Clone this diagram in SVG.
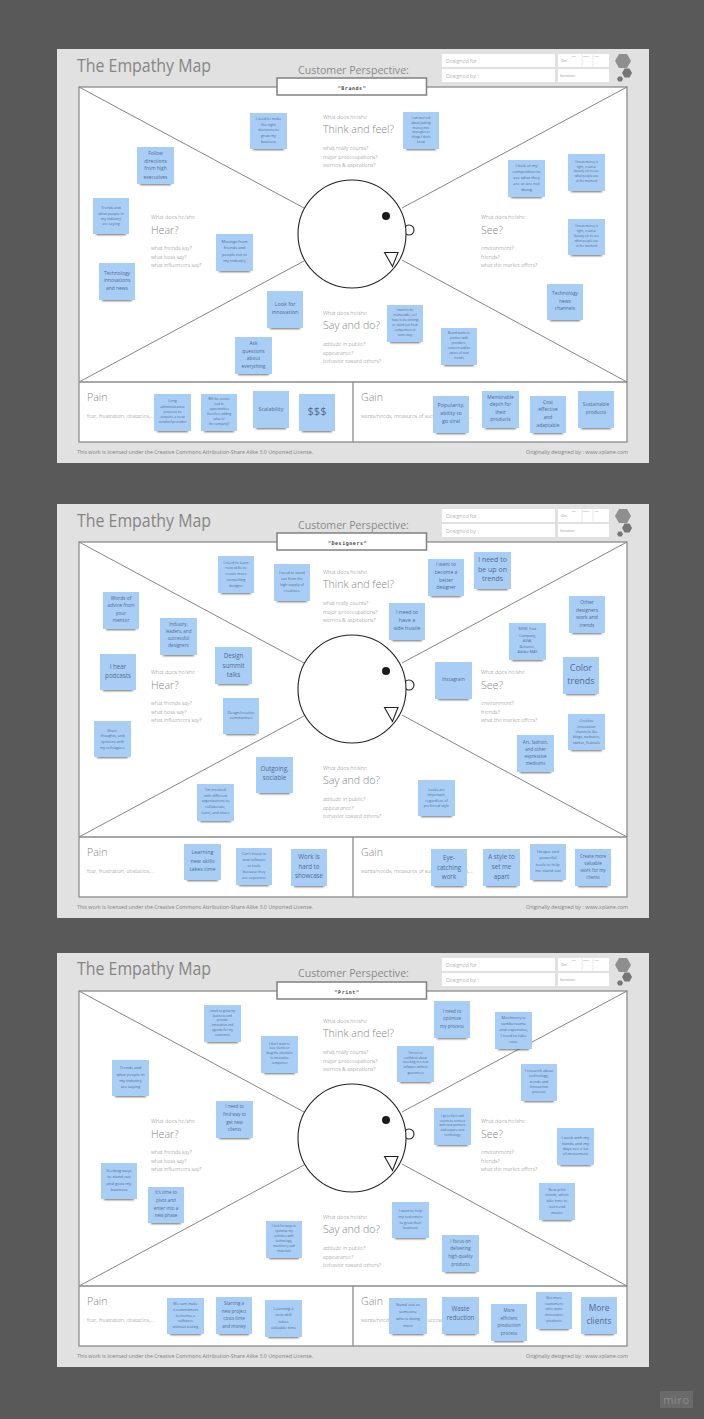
<svg xmlns="http://www.w3.org/2000/svg" width="704" height="1419" viewBox="0 0 704 1419">
<defs>
<filter id="bl" x="-20%" y="-100%" width="140%" height="300%"><feGaussianBlur stdDeviation="0.8"/></filter>
</defs>
<style>
text{font-family:"Open Sans","Liberation Sans",sans-serif}
.panel{fill:#e1e1e1}
.frame{fill:#fff;stroke:#8c8c8c;stroke-width:1.3}
.div{fill:none;stroke:#8c8c8c;stroke-width:1.3}
.diag{stroke:#858585;stroke-width:1}
.field{fill:#fff}
.tick{stroke:#d0d0d0;stroke-width:.5}
.tag{fill:#fff;stroke:#808080;stroke-width:1.5}
.tagt{font-family:"DejaVu Sans Mono",monospace;font-size:5px;font-weight:700;fill:#444;text-anchor:middle;letter-spacing:.55px}
.title{font-size:17.4px;fill:#858585}
.cp{font-size:10.6px;fill:#8a8a8a}
.lab{font-size:5.4px;fill:#858585;font-weight:300}
.tiny{font-size:2.2px;fill:#999}
.q{font-size:5.3px;fill:#858585;font-weight:300}
.big{font-size:10.6px;fill:#858585;font-weight:300}
.foot{font-size:5.3px;fill:#808080}
.head{fill:#fff;stroke:#222;stroke-width:1.1}
.eye{fill:#1c1c1c}
.st{fill:#a9cef6}
.sh{fill:#333;filter:url(#bl);opacity:.7}
.n text,.n{text-anchor:middle;fill:#526a8a}
.f2{font-size:3.1px;fill:#5f7696}.f3{font-size:3.7px;fill:#5a7292}.f4{font-size:4.1px}.f45{font-size:4.5px}.f5{font-size:4.9px}.f55{font-size:5.4px}.f6{font-size:6.2px}.f7{font-size:7px}
.d9{font-size:9px;fill:#2f3e52}.d8{font-size:8.4px;fill:#2f3e52}.d11{font-size:11px;fill:#1f2b3a}
</style>
<rect width="704" height="1419" fill="#595959"/>

<g id="board-1">
<rect class="panel" x="57" y="49" width="592" height="414"/>
<text class="title" x="77" y="72" textLength="134" lengthAdjust="spacingAndGlyphs">The Empathy Map</text>
<text class="cp" x="298" y="74">Customer Perspective:</text>
<rect class="field" x="442" y="54" width="113" height="13"/><rect class="field" x="442" y="69" width="113" height="13"/>
<rect class="field" x="558" y="54" width="51" height="13"/><rect class="field" x="558" y="69" width="51" height="13"/>
<path class="tick" d="M582 54V67M593 54V67"/>
<text class="lab" x="446" y="63">Designed for :</text><text class="lab" x="446" y="77.500">Designed by :</text>
<text class="tiny" style="font-size:3.600px" x="561" y="61.500">On:</text><text class="tiny" style="font-size:3.600px" x="560" y="77">Iteration:</text>
<text class="tiny" x="572" y="56.500">Day</text><text class="tiny" x="582.500" y="56.500">Month</text><text class="tiny" x="594" y="56.500">Year</text>
<path d="M631 61l-4 7h-8l-4-7 4-7h8z" fill="#8f8f8f"/><path d="M632 73l-2.500 4.400h-5L622 73l2.500-4.400h5z" fill="#767676"/><path d="M623 79l-1.400 2.500h-3L617 79l1.600-2.500h3z" fill="#767676"/>
<rect class="frame" x="79" y="87" width="548" height="355"/>
<path class="div" d="M79 382H627M353 382V442"/>
<g class="connectors"><line class="diag" x1="79" y1="87" x2="304" y2="208"/><line class="diag" x1="627" y1="87" x2="402" y2="208"/><line class="diag" x1="79" y1="382" x2="304" y2="261"/><line class="diag" x1="627" y1="382" x2="402" y2="260"/></g>
<circle class="head" cx="409" cy="230" r="5"/><circle class="head" cx="352" cy="234" r="54"/><circle class="eye" cx="386" cy="216" r="4"/><path class="head" d="M384.500 252.500H398L392.500 266.500Z"/>
<rect class="tag" x="277" y="78" width="149.500" height="17"/><text class="tagt" x="352" y="89.500">"Brands"</text>
<text class="lab" x="323" y="119">What does he/she</text><text class="big" x="323" y="133">Think and feel?</text><text class="q" x="323" y="150">what really counts?</text><text class="q" x="323" y="158.500">major preoccupations?</text><text class="q" x="323" y="167">worries &amp; aspirations?</text>
<text class="lab" x="151" y="219">What does he/she</text><text class="big" x="151" y="234">Hear?</text><text class="q" x="151" y="250">what friends say?</text><text class="q" x="151" y="258.500">what boss say?</text><text class="q" x="151" y="267">what influencers say?</text>
<text class="lab" x="481" y="219">What does he/she</text><text class="big" x="481" y="234">See?</text><text class="q" x="481" y="250">environment?</text><text class="q" x="481" y="258.500">friends?</text><text class="q" x="481" y="267">what the market offers?</text>
<text class="lab" x="323" y="315">What does he/she</text><text class="big" x="323" y="329">Say and do?</text><text class="q" x="323" y="346">attitude in public?</text><text class="q" x="323" y="354.500">appearance?</text><text class="q" x="323" y="363">behavior toward others?</text>
<text class="big" x="87" y="401">Pain</text><text class="q" x="87" y="418">fear, frustration, obstacles,...</text>
<text class="big" x="361" y="401">Gain</text><text class="q" x="361" y="418">wants/needs, measures of success, obstacles,...</text>
<text class="foot" x="77" y="454" textLength="236" lengthAdjust="spacingAndGlyphs">This work is licensed under the Creative Commons Attribution-Share Alike 3.0 Unported License.</text>
<text class="foot" x="526" y="454" textLength="102" lengthAdjust="spacingAndGlyphs">Originally designed by : www.xplane.com</text>
</g>

<g id="board-2" transform="translate(0,455)">
<rect class="panel" x="57" y="49" width="592" height="414"/>
<text class="title" x="77" y="72" textLength="134" lengthAdjust="spacingAndGlyphs">The Empathy Map</text>
<text class="cp" x="298" y="74">Customer Perspective:</text>
<rect class="field" x="442" y="54" width="113" height="13"/><rect class="field" x="442" y="69" width="113" height="13"/>
<rect class="field" x="558" y="54" width="51" height="13"/><rect class="field" x="558" y="69" width="51" height="13"/>
<path class="tick" d="M582 54V67M593 54V67"/>
<text class="lab" x="446" y="63">Designed for :</text><text class="lab" x="446" y="77.500">Designed by :</text>
<text class="tiny" style="font-size:3.600px" x="561" y="61.500">On:</text><text class="tiny" style="font-size:3.600px" x="560" y="77">Iteration:</text>
<text class="tiny" x="572" y="56.500">Day</text><text class="tiny" x="582.500" y="56.500">Month</text><text class="tiny" x="594" y="56.500">Year</text>
<path d="M631 61l-4 7h-8l-4-7 4-7h8z" fill="#8f8f8f"/><path d="M632 73l-2.500 4.400h-5L622 73l2.500-4.400h5z" fill="#767676"/><path d="M623 79l-1.400 2.500h-3L617 79l1.600-2.500h3z" fill="#767676"/>
<rect class="frame" x="79" y="87" width="548" height="355"/>
<path class="div" d="M79 382H627M353 382V442"/>
<g class="connectors"><line class="diag" x1="79" y1="87" x2="304" y2="208"/><line class="diag" x1="627" y1="87" x2="402" y2="208"/><line class="diag" x1="79" y1="382" x2="304" y2="261"/><line class="diag" x1="627" y1="382" x2="402" y2="260"/></g>
<circle class="head" cx="409" cy="230" r="5"/><circle class="head" cx="352" cy="234" r="54"/><circle class="eye" cx="386" cy="216" r="4"/><path class="head" d="M384.500 252.500H398L392.500 266.500Z"/>
<rect class="tag" x="277" y="78" width="149.500" height="17"/><text class="tagt" x="347.500" y="89.500">"Designers"</text>
<text class="lab" x="323" y="119">What does he/she</text><text class="big" x="323" y="133">Think and feel?</text><text class="q" x="323" y="150">what really counts?</text><text class="q" x="323" y="158.500">major preoccupations?</text><text class="q" x="323" y="167">worries &amp; aspirations?</text>
<text class="lab" x="151" y="219">What does he/she</text><text class="big" x="151" y="234">Hear?</text><text class="q" x="151" y="250">what friends say?</text><text class="q" x="151" y="258.500">what boss say?</text><text class="q" x="151" y="267">what influencers say?</text>
<text class="lab" x="481" y="219">What does he/she</text><text class="big" x="481" y="234">See?</text><text class="q" x="481" y="250">environment?</text><text class="q" x="481" y="258.500">friends?</text><text class="q" x="481" y="267">what the market offers?</text>
<text class="lab" x="323" y="315">What does he/she</text><text class="big" x="323" y="329">Say and do?</text><text class="q" x="323" y="346">attitude in public?</text><text class="q" x="323" y="354.500">appearance?</text><text class="q" x="323" y="363">behavior toward others?</text>
<text class="big" x="87" y="401">Pain</text><text class="q" x="87" y="418">fear, frustration, obstacles,...</text>
<text class="big" x="361" y="401">Gain</text><text class="q" x="361" y="418">wants/needs, measures of success, obstacles,...</text>
<text class="foot" x="77" y="454" textLength="236" lengthAdjust="spacingAndGlyphs">This work is licensed under the Creative Commons Attribution-Share Alike 3.0 Unported License.</text>
<text class="foot" x="526" y="454" textLength="102" lengthAdjust="spacingAndGlyphs">Originally designed by : www.xplane.com</text>
</g>

<g id="board-3" transform="translate(0,904)">
<rect class="panel" x="57" y="49" width="592" height="414"/>
<text class="title" x="77" y="71" textLength="134" lengthAdjust="spacingAndGlyphs">The Empathy Map</text>
<text class="cp" x="298" y="73">Customer Perspective:</text>
<rect class="field" x="442" y="54" width="113" height="13"/><rect class="field" x="442" y="69" width="113" height="13"/>
<rect class="field" x="558" y="54" width="51" height="13"/><rect class="field" x="558" y="69" width="51" height="13"/>
<path class="tick" d="M582 54V67M593 54V67"/>
<text class="lab" x="446" y="63">Designed for :</text><text class="lab" x="446" y="77.500">Designed by :</text>
<text class="tiny" style="font-size:3.600px" x="561" y="61.500">On:</text><text class="tiny" style="font-size:3.600px" x="560" y="77">Iteration:</text>
<text class="tiny" x="572" y="56.500">Day</text><text class="tiny" x="582.500" y="56.500">Month</text><text class="tiny" x="594" y="56.500">Year</text>
<path d="M631 61l-4 7h-8l-4-7 4-7h8z" fill="#8f8f8f"/><path d="M632 73l-2.500 4.400h-5L622 73l2.500-4.400h5z" fill="#767676"/><path d="M623 79l-1.400 2.500h-3L617 79l1.600-2.500h3z" fill="#767676"/>
<rect class="frame" x="79" y="87" width="548" height="355"/>
<path class="div" d="M79 382H627M353 382V442"/>
<g class="connectors"><line class="diag" x1="79" y1="87" x2="304" y2="208"/><line class="diag" x1="627" y1="87" x2="402" y2="208"/><line class="diag" x1="79" y1="382" x2="304" y2="261"/><line class="diag" x1="627" y1="382" x2="402" y2="260"/></g>
<circle class="head" cx="409" cy="230" r="5"/><circle class="head" cx="352" cy="234" r="54"/><circle class="eye" cx="386" cy="216" r="4"/><path class="head" d="M384.500 252.500H398L392.500 266.500Z"/>
<rect class="tag" x="277" y="78" width="149.500" height="17"/><text class="tagt" x="347" y="89.500">"Print"</text>
<text class="lab" x="323" y="119">What does he/she</text><text class="big" x="323" y="133">Think and feel?</text><text class="q" x="323" y="150">what really counts?</text><text class="q" x="323" y="158.500">major preoccupations?</text><text class="q" x="323" y="167">worries &amp; aspirations?</text>
<text class="lab" x="151" y="219">What does he/she</text><text class="big" x="151" y="234">Hear?</text><text class="q" x="151" y="250">what friends say?</text><text class="q" x="151" y="258.500">what boss say?</text><text class="q" x="151" y="267">what influencers say?</text>
<text class="lab" x="481" y="219">What does he/she</text><text class="big" x="481" y="234">See?</text><text class="q" x="481" y="250">environment?</text><text class="q" x="481" y="258.500">friends?</text><text class="q" x="481" y="267">what the market offers?</text>
<text class="lab" x="323" y="315">What does he/she</text><text class="big" x="323" y="329">Say and do?</text><text class="q" x="323" y="346">attitude in public?</text><text class="q" x="323" y="354.500">appearance?</text><text class="q" x="323" y="363">behavior toward others?</text>
<text class="big" x="87" y="401">Pain</text><text class="q" x="87" y="418">fear, frustration, obstacles,...</text>
<text class="big" x="361" y="401">Gain</text><text class="q" x="361" y="418">wants/needs, measures of success, obstacles,...</text>
<text class="foot" x="77" y="454" textLength="236" lengthAdjust="spacingAndGlyphs">This work is licensed under the Creative Commons Attribution-Share Alike 3.0 Unported License.</text>
<text class="foot" x="526" y="454" textLength="102" lengthAdjust="spacingAndGlyphs">Originally designed by : www.xplane.com</text>
</g>

<g id="notes-1">
<g id="n1-1" class="n"><rect class="sh" x="253" y="147" width="31" height="3"/><rect class="st" x="250" y="113" width="37" height="36"/><text class="f3"><tspan x="268.500" y="119.500">I need to make</tspan><tspan x="268.500" y="125.500">the right</tspan><tspan x="268.500" y="131">decisions to</tspan><tspan x="268.500" y="137">grow my</tspan><tspan x="268.500" y="143">business</tspan></text></g>
<g id="n1-2" class="n"><rect class="sh" x="140" y="182" width="31" height="3"/><rect class="st" x="137" y="147" width="37" height="37"/><text class="f5"><tspan x="155.500" y="155">Follow</tspan><tspan x="155.500" y="163">directions</tspan><tspan x="155.500" y="170">from high</tspan><tspan x="155.500" y="178.500">executives</tspan></text></g>
<g id="n1-3" class="n"><rect class="sh" x="96" y="232" width="30" height="3"/><rect class="st" x="93" y="198" width="36" height="36"/><text class="f3"><tspan x="111" y="208.500">Trends and</tspan><tspan x="111" y="214.500">what people in</tspan><tspan x="111" y="219.500">my industry</tspan><tspan x="111" y="225">are saying</tspan></text></g>
<g id="n1-4" class="n"><rect class="sh" x="219" y="269" width="31" height="3"/><rect class="st" x="216" y="234" width="37" height="37"/><text class="f4"><tspan x="234.500" y="242.500">Musings from</tspan><tspan x="234.500" y="249">friends and</tspan><tspan x="234.500" y="255.500">people not in</tspan><tspan x="234.500" y="261.500">my industry</tspan></text></g>
<g id="n1-5" class="n"><rect class="sh" x="102" y="298" width="30" height="3"/><rect class="st" x="99" y="263" width="36" height="37"/><text class="f5"><tspan x="117" y="275">Technology</tspan><tspan x="117" y="282">innovations</tspan><tspan x="117" y="290">and news</tspan></text></g>
<g id="n1-6" class="n"><rect class="sh" x="270" y="326" width="30" height="3"/><rect class="st" x="267" y="291" width="36" height="37"/><text class="f55"><tspan x="285" y="306">Look for</tspan><tspan x="285" y="314">innovation</tspan></text></g>
<g id="n1-7" class="n"><rect class="sh" x="238" y="372" width="31" height="3"/><rect class="st" x="235" y="337" width="37" height="37"/><text class="f5"><tspan x="253.500" y="345">Ask</tspan><tspan x="253.500" y="353">questions</tspan><tspan x="253.500" y="360">about</tspan><tspan x="253.500" y="368">everything</tspan></text></g>
<g id="n1-8" class="n"><rect class="sh" x="157" y="429" width="31" height="3"/><rect class="st" x="154" y="394" width="37" height="37"/><text class="f3"><tspan x="172.500" y="402">Long</tspan><tspan x="172.500" y="407.500">administrative</tspan><tspan x="172.500" y="412.500">process to</tspan><tspan x="172.500" y="417.500">acquire a new</tspan><tspan x="172.500" y="423">vendor/provider</tspan></text></g>
<g id="n1-9" class="n"><rect class="sh" x="204" y="429" width="30" height="3"/><rect class="st" x="201" y="394" width="36" height="37"/><text class="f2"><tspan x="219" y="400">Will the service</tspan><tspan x="219" y="405">lead to</tspan><tspan x="219" y="410">opportunities</tspan><tspan x="219" y="415">therefore adding</tspan><tspan x="219" y="420">value to</tspan><tspan x="219" y="425">the company?</tspan></text></g>
<g id="n1-10" class="n"><rect class="sh" x="256" y="426" width="30" height="3"/><rect class="st" x="253" y="391" width="36" height="37"/><text class="f55"><tspan x="271" y="411">Scalability</tspan></text></g>
<g id="n1-11" class="n"><rect class="sh" x="302" y="429" width="30" height="3"/><rect class="st" x="299" y="394" width="36" height="37"/><text class="d11"><tspan x="317" y="415">$$$</tspan></text></g>
<g id="n1-12" class="n"><rect class="sh" x="406" y="147" width="30" height="3"/><rect class="st" x="403" y="112" width="36" height="37"/><text class="f2"><tspan x="421" y="119">I am worried</tspan><tspan x="421" y="124">about putting</tspan><tspan x="421" y="128.500">money into</tspan><tspan x="421" y="133">strategies or</tspan><tspan x="421" y="138">things I don't</tspan><tspan x="421" y="143">know</tspan></text></g>
<g id="n1-13" class="n"><rect class="sh" x="511" y="195" width="31" height="3"/><rect class="st" x="508" y="160" width="37" height="37"/><text class="f4"><tspan x="526.500" y="166.500">I look at my</tspan><tspan x="526.500" y="172.500">competition to</tspan><tspan x="526.500" y="178.500">see what they</tspan><tspan x="526.500" y="184.500">are or are not</tspan><tspan x="526.500" y="190.500">doing</tspan></text></g>
<g id="n1-14" class="n"><rect class="sh" x="571" y="189" width="31" height="3"/><rect class="st" x="568" y="154" width="37" height="37"/><text class="f2"><tspan x="586.500" y="163">I know money is</tspan><tspan x="586.500" y="167.500">tight, creative</tspan><tspan x="586.500" y="172">beauty etc to see</tspan><tspan x="586.500" y="177">what people use</tspan><tspan x="586.500" y="182">at the moment</tspan></text></g>
<g id="n1-15" class="n"><rect class="sh" x="571" y="253" width="31" height="3"/><rect class="st" x="568" y="219" width="37" height="36"/><text class="f2"><tspan x="586.500" y="227">I know money is</tspan><tspan x="586.500" y="232">tight, creative</tspan><tspan x="586.500" y="237">beauty etc to see</tspan><tspan x="586.500" y="242">what people use</tspan><tspan x="586.500" y="247">at the moment</tspan></text></g>
<g id="n1-16" class="n"><rect class="sh" x="550" y="318" width="30" height="3"/><rect class="st" x="547" y="284" width="36" height="36"/><text class="f5"><tspan x="565" y="295">Technology</tspan><tspan x="565" y="303">news</tspan><tspan x="565" y="310">channels</tspan></text></g>
<g id="n1-17" class="n"><rect class="sh" x="390" y="340" width="30" height="3"/><rect class="st" x="387" y="305" width="36" height="37"/><text class="f2"><tspan x="405" y="311">I want to be</tspan><tspan x="405" y="316">memorable, so I</tspan><tspan x="405" y="321">have to be striving</tspan><tspan x="405" y="326">or stand out from</tspan><tspan x="405" y="331">competitors in</tspan><tspan x="405" y="336">some way</tspan></text></g>
<g id="n1-18" class="n"><rect class="sh" x="444" y="363" width="30" height="3"/><rect class="st" x="441" y="328" width="36" height="37"/><text class="f2"><tspan x="459" y="334">Brand wants to</tspan><tspan x="459" y="339">partner with</tspan><tspan x="459" y="344">providers,</tspan><tspan x="459" y="349">concern and be</tspan><tspan x="459" y="354">aware of new</tspan><tspan x="459" y="359">trends</tspan></text></g>
<g id="n1-19" class="n"><rect class="sh" x="436" y="431" width="30" height="3"/><rect class="st" x="433" y="396" width="36" height="37"/><text class="f55"><tspan x="451" y="407">Popularity,</tspan><tspan x="451" y="415">ability to</tspan><tspan x="451" y="423">go viral</tspan></text></g>
<g id="n1-20" class="n"><rect class="sh" x="485" y="426" width="31" height="3"/><rect class="st" x="482" y="391" width="37" height="37"/><text class="f5"><tspan x="500.500" y="399">Memorable</tspan><tspan x="500.500" y="406">depth for</tspan><tspan x="500.500" y="414">their</tspan><tspan x="500.500" y="421">products</tspan></text></g>
<g id="n1-21" class="n"><rect class="sh" x="533" y="431" width="30" height="3"/><rect class="st" x="530" y="396" width="36" height="37"/><text class="f5"><tspan x="548" y="404">Cost</tspan><tspan x="548" y="411">effective</tspan><tspan x="548" y="419">and</tspan><tspan x="548" y="427">adaptable</tspan></text></g>
<g id="n1-22" class="n"><rect class="sh" x="581" y="426" width="30" height="3"/><rect class="st" x="578" y="391" width="36" height="37"/><text class="f5"><tspan x="596" y="406">Sustainable</tspan><tspan x="596" y="414">products</tspan></text></g>
</g>

<g id="notes-2">
<g id="n2-1" class="n"><rect class="sh" x="221" y="591" width="30" height="3"/><rect class="st" x="218" y="556" width="36" height="37"/><text class="f3"><tspan x="236" y="563.500">I need to learn</tspan><tspan x="236" y="569">new skills to</tspan><tspan x="236" y="575">create more</tspan><tspan x="236" y="581">compelling</tspan><tspan x="236" y="587">designs.</tspan></text></g>
<g id="n2-2" class="n"><rect class="sh" x="277" y="599" width="30" height="3"/><rect class="st" x="274" y="564" width="36" height="37"/><text class="f3"><tspan x="292" y="573.500">I need to stand</tspan><tspan x="292" y="579.500">out from the</tspan><tspan x="292" y="585.500">high supply of</tspan><tspan x="292" y="591.500">creatives.</tspan></text></g>
<g id="n2-3" class="n"><rect class="sh" x="106" y="627" width="30" height="3"/><rect class="st" x="103" y="592" width="36" height="37"/><text class="f5"><tspan x="121" y="600">Words of</tspan><tspan x="121" y="607">advice from</tspan><tspan x="121" y="615">your</tspan><tspan x="121" y="622">mentor</tspan></text></g>
<g id="n2-4" class="n"><rect class="sh" x="163" y="653" width="31" height="3"/><rect class="st" x="160" y="618" width="37" height="37"/><text class="f45"><tspan x="178.500" y="626">Industry,</tspan><tspan x="178.500" y="633">leaders, and</tspan><tspan x="178.500" y="640">successful</tspan><tspan x="178.500" y="647">designers</tspan></text></g>
<g id="n2-5" class="n"><rect class="sh" x="103" y="688" width="30" height="3"/><rect class="st" x="100" y="654" width="36" height="36"/><text class="f6"><tspan x="118" y="668.500">I hear</tspan><tspan x="118" y="678">podcasts</tspan></text></g>
<g id="n2-6" class="n"><rect class="sh" x="218" y="682" width="31" height="3"/><rect class="st" x="215" y="647" width="37" height="37"/><text class="f6"><tspan x="233.500" y="657.500">Design</tspan><tspan x="233.500" y="667.500">summit</tspan><tspan x="233.500" y="677">talks</tspan></text></g>
<g id="n2-7" class="n"><rect class="sh" x="226" y="732" width="30" height="3"/><rect class="st" x="223" y="698" width="36" height="36"/><text class="f3"><tspan x="241" y="713.500">Design/creative</tspan><tspan x="241" y="718.500">communities</tspan></text></g>
<g id="n2-8" class="n"><rect class="sh" x="97" y="755" width="31" height="3"/><rect class="st" x="94" y="721" width="37" height="36"/><text class="f3"><tspan x="112.500" y="731.500">Share</tspan><tspan x="112.500" y="736.500">thoughts, and</tspan><tspan x="112.500" y="742.500">opinions with</tspan><tspan x="112.500" y="748.500">my colleagues.</tspan></text></g>
<g id="n2-9" class="n"><rect class="sh" x="259" y="791" width="31" height="3"/><rect class="st" x="256" y="757" width="37" height="36"/><text class="f6"><tspan x="274.500" y="771">Outgoing,</tspan><tspan x="274.500" y="779.500">sociable</tspan></text></g>
<g id="n2-10" class="n"><rect class="sh" x="200" y="819" width="31" height="3"/><rect class="st" x="197" y="784" width="37" height="37"/><text class="f3"><tspan x="215.500" y="790.500">I'm involved</tspan><tspan x="215.500" y="796.500">with different</tspan><tspan x="215.500" y="801.500">organizations to</tspan><tspan x="215.500" y="807.500">collaborate,</tspan><tspan x="215.500" y="813.500">learn, and share</tspan></text></g>
<g id="n2-11" class="n"><rect class="sh" x="187" y="878" width="31" height="3"/><rect class="st" x="184" y="844" width="37" height="36"/><text class="f55"><tspan x="202.500" y="854">Learning</tspan><tspan x="202.500" y="863">new skills</tspan><tspan x="202.500" y="871">takes time</tspan></text></g>
<g id="n2-12" class="n"><rect class="sh" x="239" y="883" width="30" height="3"/><rect class="st" x="236" y="848" width="36" height="37"/><text class="f3"><tspan x="254" y="854.500">Can't invest in</tspan><tspan x="254" y="860.500">new software</tspan><tspan x="254" y="866.500">or tools</tspan><tspan x="254" y="872.500">because they</tspan><tspan x="254" y="878.500">are expensive</tspan></text></g>
<g id="n2-13" class="n"><rect class="sh" x="294" y="884" width="30" height="3"/><rect class="st" x="291" y="849" width="36" height="37"/><text class="f6"><tspan x="309" y="859">Work is</tspan><tspan x="309" y="869">hard to</tspan><tspan x="309" y="878">showcase</tspan></text></g>
<g id="n2-14" class="n"><rect class="sh" x="431" y="594" width="30" height="3"/><rect class="st" x="428" y="559" width="36" height="37"/><text class="f5"><tspan x="446" y="566">I want to</tspan><tspan x="446" y="574">become a</tspan><tspan x="446" y="582">better</tspan><tspan x="446" y="589">designer</tspan></text></g>
<g id="n2-15" class="n"><rect class="sh" x="477" y="587" width="31" height="3"/><rect class="st" x="474" y="552" width="37" height="37"/><text class="f7"><tspan x="492.500" y="561.500">I need to</tspan><tspan x="492.500" y="571.500">be up on</tspan><tspan x="492.500" y="580.500">trends</tspan></text></g>
<g id="n2-16" class="n"><rect class="sh" x="392" y="638" width="30" height="3"/><rect class="st" x="389" y="603" width="36" height="37"/><text class="f55"><tspan x="407" y="614">I need to</tspan><tspan x="407" y="622">have a</tspan><tspan x="407" y="630">side hustle</tspan></text></g>
<g id="n2-17" class="n"><rect class="sh" x="572" y="631" width="30" height="3"/><rect class="st" x="569" y="596" width="36" height="37"/><text class="f5"><tspan x="587" y="604">Other</tspan><tspan x="587" y="612">designers</tspan><tspan x="587" y="619">work and</tspan><tspan x="587" y="627">trends</tspan></text></g>
<g id="n2-18" class="n"><rect class="sh" x="512" y="658" width="31" height="3"/><rect class="st" x="509" y="623" width="37" height="37"/><text class="f3"><tspan x="527.500" y="629.500">MXW, Fast</tspan><tspan x="527.500" y="636.500">Company,</tspan><tspan x="527.500" y="641.500">AIGA,</tspan><tspan x="527.500" y="647.500">Behance,</tspan><tspan x="527.500" y="652.500">Adobe MAX</tspan></text></g>
<g id="n2-19" class="n"><rect class="sh" x="438" y="697" width="31" height="3"/><rect class="st" x="435" y="662" width="37" height="37"/><text class="f5"><tspan x="453.500" y="681">Instagram</tspan></text></g>
<g id="n2-20" class="n"><rect class="sh" x="566" y="692" width="30" height="3"/><rect class="st" x="563" y="657" width="36" height="37"/><text class="d9"><tspan x="581" y="671">Color</tspan><tspan x="581" y="684">trends</tspan></text></g>
<g id="n2-21" class="n"><rect class="sh" x="571" y="748" width="31" height="3"/><rect class="st" x="568" y="714" width="37" height="36"/><text class="f3"><tspan x="586.500" y="721.500">Creative</tspan><tspan x="586.500" y="727.500">innovation</tspan><tspan x="586.500" y="732.500">channels like</tspan><tspan x="586.500" y="737.500">blogs, websites,</tspan><tspan x="586.500" y="743.500">twitter, festivals</tspan></text></g>
<g id="n2-22" class="n"><rect class="sh" x="520" y="770" width="31" height="3"/><rect class="st" x="517" y="735" width="37" height="37"/><text class="f45"><tspan x="535.500" y="744">Art, fashion,</tspan><tspan x="535.500" y="751">and other</tspan><tspan x="535.500" y="758">expressive</tspan><tspan x="535.500" y="765">mediums</tspan></text></g>
<g id="n2-23" class="n"><rect class="sh" x="421" y="814" width="31" height="3"/><rect class="st" x="418" y="780" width="37" height="36"/><text class="f3"><tspan x="436.500" y="790.500">Looks are</tspan><tspan x="436.500" y="795.500">important,</tspan><tspan x="436.500" y="801.500">regardless of</tspan><tspan x="436.500" y="806.500">preferred style</tspan></text></g>
<g id="n2-24" class="n"><rect class="sh" x="434" y="884" width="30" height="3"/><rect class="st" x="431" y="849" width="36" height="37"/><text class="f6"><tspan x="449" y="859.500">Eye-</tspan><tspan x="449" y="869.500">catching</tspan><tspan x="449" y="878.500">work</tspan></text></g>
<g id="n2-25" class="n"><rect class="sh" x="486" y="884" width="31" height="3"/><rect class="st" x="483" y="849" width="37" height="37"/><text class="f6"><tspan x="501.500" y="858.500">A style to</tspan><tspan x="501.500" y="868.500">set me</tspan><tspan x="501.500" y="878.500">apart</tspan></text></g>
<g id="n2-26" class="n"><rect class="sh" x="533" y="878" width="30" height="3"/><rect class="st" x="530" y="844" width="36" height="36"/><text class="f4"><tspan x="548" y="852.500">Unique and</tspan><tspan x="548" y="858.500">powerful</tspan><tspan x="548" y="865.500">tools to help</tspan><tspan x="548" y="871.500">me stand out</tspan></text></g>
<g id="n2-27" class="n"><rect class="sh" x="578" y="884" width="30" height="3"/><rect class="st" x="575" y="849" width="36" height="37"/><text class="f45"><tspan x="593" y="857.500">Create more</tspan><tspan x="593" y="864.500">valuable</tspan><tspan x="593" y="871.500">work for my</tspan><tspan x="593" y="878.500">clients</tspan></text></g>
</g>

<g id="notes-3">
<g id="n3-1" class="n"><rect class="sh" x="207" y="1040" width="31" height="3"/><rect class="st" x="204" y="1005" width="37" height="37"/><text class="f2"><tspan x="222.500" y="1012">I want to grow my</tspan><tspan x="222.500" y="1017">business and</tspan><tspan x="222.500" y="1021">provide</tspan><tspan x="222.500" y="1026">innovation and</tspan><tspan x="222.500" y="1031">agenda for my</tspan><tspan x="222.500" y="1035.500">customers</tspan></text></g>
<g id="n3-2" class="n"><rect class="sh" x="264" y="1071" width="31" height="3"/><rect class="st" x="261" y="1036" width="37" height="37"/><text class="f2"><tspan x="279.500" y="1045">I don't want to</tspan><tspan x="279.500" y="1049">lose clients or</tspan><tspan x="279.500" y="1054">brag the attention</tspan><tspan x="279.500" y="1059">to innovative</tspan><tspan x="279.500" y="1064">companies</tspan></text></g>
<g id="n3-3" class="n"><rect class="sh" x="115" y="1094" width="31" height="3"/><rect class="st" x="112" y="1060" width="37" height="36"/><text class="f4"><tspan x="130.500" y="1068.500">Trends and</tspan><tspan x="130.500" y="1075.500">what people in</tspan><tspan x="130.500" y="1081.500">my industry</tspan><tspan x="130.500" y="1087.500">are saying</tspan></text></g>
<g id="n3-4" class="n"><rect class="sh" x="219" y="1136" width="31" height="3"/><rect class="st" x="216" y="1101" width="37" height="37"/><text class="f45"><tspan x="234.500" y="1108">I need to</tspan><tspan x="234.500" y="1116">find way to</tspan><tspan x="234.500" y="1124">get new</tspan><tspan x="234.500" y="1131">clients</tspan></text></g>
<g id="n3-5" class="n"><rect class="sh" x="104" y="1197" width="30" height="3"/><rect class="st" x="101" y="1163" width="36" height="36"/><text class="f4"><tspan x="119" y="1171.500">Seeking ways</tspan><tspan x="119" y="1177.500">to stand out</tspan><tspan x="119" y="1184.500">and grow my</tspan><tspan x="119" y="1190.500">business</tspan></text></g>
<g id="n3-6" class="n"><rect class="sh" x="151" y="1221" width="30" height="3"/><rect class="st" x="148" y="1187" width="36" height="36"/><text class="f45"><tspan x="166" y="1193.500">It's time to</tspan><tspan x="166" y="1201.500">pivot and</tspan><tspan x="166" y="1209.500">enter into a</tspan><tspan x="166" y="1216.500">new phase</tspan></text></g>
<g id="n3-7" class="n"><rect class="sh" x="269" y="1256" width="30" height="3"/><rect class="st" x="266" y="1221" width="36" height="37"/><text class="f2"><tspan x="284" y="1227">I look for ways to</tspan><tspan x="284" y="1232">optimize my</tspan><tspan x="284" y="1237">activities with</tspan><tspan x="284" y="1242">technology,</tspan><tspan x="284" y="1247">machinery and</tspan><tspan x="284" y="1252">materials</tspan></text></g>
<g id="n3-8" class="n"><rect class="sh" x="170" y="1332" width="31" height="3"/><rect class="st" x="167" y="1298" width="37" height="36"/><text class="f3"><tspan x="185.500" y="1304.500">We cant make</tspan><tspan x="185.500" y="1310.500">a commitment</tspan><tspan x="185.500" y="1316.500">to license a</tspan><tspan x="185.500" y="1321.500">software</tspan><tspan x="185.500" y="1327.500">without testing</tspan></text></g>
<g id="n3-9" class="n"><rect class="sh" x="219" y="1332" width="30" height="3"/><rect class="st" x="216" y="1297" width="36" height="37"/><text class="f45"><tspan x="234" y="1305">Starting a</tspan><tspan x="234" y="1313">new project</tspan><tspan x="234" y="1320">costs time</tspan><tspan x="234" y="1328">and money</tspan></text></g>
<g id="n3-10" class="n"><rect class="sh" x="268" y="1335" width="31" height="3"/><rect class="st" x="265" y="1300" width="37" height="37"/><text class="f4"><tspan x="283.500" y="1309.500">Learning a</tspan><tspan x="283.500" y="1315.500">new skill</tspan><tspan x="283.500" y="1322.500">takes</tspan><tspan x="283.500" y="1328.500">valuable time</tspan></text></g>
<g id="n3-11" class="n"><rect class="sh" x="437" y="1036" width="30" height="3"/><rect class="st" x="434" y="1001" width="36" height="37"/><text class="f45"><tspan x="452" y="1012.500">I need to</tspan><tspan x="452" y="1019.500">optimize</tspan><tspan x="452" y="1027.500">my process</tspan></text></g>
<g id="n3-12" class="n"><rect class="sh" x="498" y="1047" width="31" height="3"/><rect class="st" x="495" y="1012" width="37" height="37"/><text class="f4"><tspan x="513.500" y="1018.500">Machinery is</tspan><tspan x="513.500" y="1024.500">cumbersome</tspan><tspan x="513.500" y="1030.500">and expensive,</tspan><tspan x="513.500" y="1036.500">I need to take</tspan><tspan x="513.500" y="1042.500">care</tspan></text></g>
<g id="n3-13" class="n"><rect class="sh" x="400" y="1080" width="31" height="3"/><rect class="st" x="397" y="1046" width="37" height="36"/><text class="f2"><tspan x="415.500" y="1054">I'm not so</tspan><tspan x="415.500" y="1059">confident about</tspan><tspan x="415.500" y="1063">investing in a new</tspan><tspan x="415.500" y="1068">software without</tspan><tspan x="415.500" y="1074">guarantees</tspan></text></g>
<g id="n3-14" class="n"><rect class="sh" x="524" y="1099" width="30" height="3"/><rect class="st" x="521" y="1064" width="36" height="37"/><text class="f3"><tspan x="539" y="1071.500">I research about</tspan><tspan x="539" y="1077">technology,</tspan><tspan x="539" y="1082.500">trends and</tspan><tspan x="539" y="1087.500">innovation</tspan><tspan x="539" y="1093">process</tspan></text></g>
<g id="n3-15" class="n"><rect class="sh" x="437" y="1143" width="31" height="3"/><rect class="st" x="434" y="1108" width="37" height="37"/><text class="f2"><tspan x="452.500" y="1117">I go to fairs and</tspan><tspan x="452.500" y="1122">events to connect</tspan><tspan x="452.500" y="1126">with new partners</tspan><tspan x="452.500" y="1131">and acquire new</tspan><tspan x="452.500" y="1136">technology</tspan></text></g>
<g id="n3-16" class="n"><rect class="sh" x="560" y="1163" width="31" height="3"/><rect class="st" x="557" y="1128" width="37" height="37"/><text class="f4"><tspan x="575.500" y="1138.500">I work with my</tspan><tspan x="575.500" y="1144.500">hands and my</tspan><tspan x="575.500" y="1149.500">days see a lot</tspan><tspan x="575.500" y="1154.500">of movement</tspan></text></g>
<g id="n3-17" class="n"><rect class="sh" x="542" y="1218" width="30" height="3"/><rect class="st" x="539" y="1183" width="36" height="37"/><text class="f3"><tspan x="557" y="1190.500">New print</tspan><tspan x="557" y="1195.500">trends, which</tspan><tspan x="557" y="1201.500">take time to</tspan><tspan x="557" y="1207.500">learn and</tspan><tspan x="557" y="1213.500">master</tspan></text></g>
<g id="n3-18" class="n"><rect class="sh" x="395" y="1236" width="31" height="3"/><rect class="st" x="392" y="1202" width="37" height="36"/><text class="f3"><tspan x="410.500" y="1211.500">I want to help</tspan><tspan x="410.500" y="1217.500">my customers</tspan><tspan x="410.500" y="1223.500">to grow their</tspan><tspan x="410.500" y="1228.500">business</tspan></text></g>
<g id="n3-19" class="n"><rect class="sh" x="445" y="1270" width="31" height="3"/><rect class="st" x="442" y="1235" width="37" height="37"/><text class="f45"><tspan x="460.500" y="1243">I focus on</tspan><tspan x="460.500" y="1250">delivering</tspan><tspan x="460.500" y="1258">high-quality</tspan><tspan x="460.500" y="1266">products</tspan></text></g>
<g id="n3-20" class="n"><rect class="sh" x="392" y="1332" width="32" height="3"/><rect class="st" x="389" y="1298" width="38" height="36"/><text class="f4"><tspan x="408" y="1305.500">Stand out as</tspan><tspan x="408" y="1312.500">someone</tspan><tspan x="408" y="1319.500">who is doing</tspan><tspan x="408" y="1326.500">more</tspan></text></g>
<g id="n3-21" class="n"><rect class="sh" x="445" y="1332" width="31" height="3"/><rect class="st" x="442" y="1297" width="37" height="37"/><text class="f6"><tspan x="460.500" y="1311">Waste</tspan><tspan x="460.500" y="1320">reduction</tspan></text></g>
<g id="n3-22" class="n"><rect class="sh" x="494" y="1339" width="30" height="3"/><rect class="st" x="491" y="1304" width="36" height="37"/><text class="f45"><tspan x="509" y="1312">More</tspan><tspan x="509" y="1320">efficient</tspan><tspan x="509" y="1327">production</tspan><tspan x="509" y="1335">process</tspan></text></g>
<g id="n3-23" class="n"><rect class="sh" x="539" y="1327" width="30" height="3"/><rect class="st" x="536" y="1292" width="36" height="37"/><text class="f3"><tspan x="554" y="1299">Get more</tspan><tspan x="554" y="1305">customers</tspan><tspan x="554" y="1310">who want</tspan><tspan x="554" y="1316">innovative</tspan><tspan x="554" y="1322">products</tspan></text></g>
<g id="n3-24" class="n"><rect class="sh" x="584" y="1332" width="30" height="3"/><rect class="st" x="581" y="1297" width="36" height="37"/><text class="d8"><tspan x="599" y="1311">More</tspan><tspan x="599" y="1324">clients</tspan></text></g>
</g>

<g id="watermark"><rect x="660" y="1391" width="33" height="17" fill="#6a6a6a"/><text x="676.500" y="1403.500" text-anchor="middle" style="font-size:11px;letter-spacing:.6px;fill:#8c8c8c">miro</text></g>
</svg>
